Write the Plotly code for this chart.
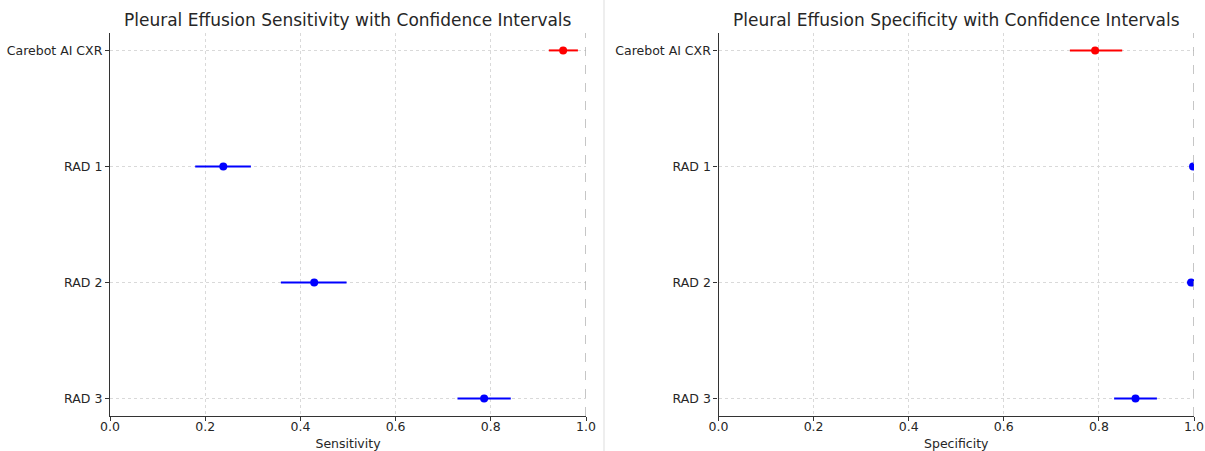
import plotly.graph_objects as go

models = ["Carebot AI CXR", "RAD 1", "RAD 2", "RAD 3"]
colors = ["#ff0000", "#0000ff", "#0000ff", "#0000ff"]

sens = [0.952, 0.238, 0.429, 0.786]
sens_lo = [0.922, 0.179, 0.359, 0.730]
sens_hi = [0.983, 0.296, 0.497, 0.842]

spec = [0.792, 0.998, 0.994, 0.877]
spec_lo = [0.739, 0.995, 0.985, 0.832]
spec_hi = [0.849, 1.000, 1.000, 0.922]

titles = ["Pleural Effusion Sensitivity with Confidence Intervals",
          "Pleural Effusion Specificity with Confidence Intervals"]
xlabels = ["Sensitivity", "Specificity"]
xticks = [0.0, 0.2, 0.4, 0.6, 0.8, 1.0]

FONT = "DejaVu Sans"
TXT = "#262626"

fig = go.Figure()

panels = [(sens, sens_lo, sens_hi), (spec, spec_lo, spec_hi)]
for p, (vals, lo, hi) in enumerate(panels):
    xa = "x" if p == 0 else "x2"
    ya = "y" if p == 0 else "y2"
    for i, m in enumerate(models):
        fig.add_trace(go.Scatter(
            x=[vals[i]], y=[m], xaxis=xa, yaxis=ya,
            mode="markers",
            marker=dict(color=colors[i], size=8),
            error_x=dict(type="data", symmetric=False,
                         array=[hi[i] - vals[i]], arrayminus=[vals[i] - lo[i]],
                         color=colors[i], thickness=2, width=0),
            showlegend=False, cliponaxis=True,
        ))

ydom = [1 - 416 / 451, 1 - 33 / 451]
xdoms = [[110 / 1205, 586 / 1205], [718.5 / 1205, 1194 / 1205]]

axis_common = dict(
    showline=True, linecolor="#333333", linewidth=1.3, mirror=False,
    ticks="outside", ticklen=4, tickcolor="#333333",
    showgrid=True, gridcolor="#d9d9d9", griddash="dot", gridwidth=1,
    zeroline=False, automargin=False,
    tickfont=dict(family=FONT, size=12.5, color=TXT),
)

for p in range(2):
    sx = "" if p == 0 else "2"
    fig.update_layout(**{
        f"xaxis{sx}": dict(
            domain=xdoms[p], anchor=f"y{sx}", range=[0, 1],
            tickvals=xticks, ticktext=[f"{t:.1f}" for t in xticks],
            ticklabelstandoff=-5,
            title=dict(text=xlabels[p], font=dict(family=FONT, size=12.5, color=TXT), standoff=8),
            **axis_common),
        f"yaxis{sx}": dict(
            domain=ydom, anchor=f"x{sx}", type="category",
            categoryorder="array", categoryarray=models,
            range=[3.15, -0.15],
            **axis_common),
    })
    # dashed reference line at 1.0
    fig.add_shape(type="line", xref=f"x{sx}", yref=f"y{sx} domain",
                  x0=1, x1=1, y0=0, y1=1,
                  line=dict(color="#a8a8a8", width=1.3, dash="dash"))
    fig.add_annotation(text=titles[p], xref="paper", yref="paper",
                       x=(xdoms[p][0] + xdoms[p][1]) / 2, y=1 - 20.5 / 451,
                       xanchor="center", yanchor="middle", showarrow=False,
                       font=dict(family=FONT, size=17, color=TXT))

# separator between the panels
fig.add_shape(type="line", xref="paper", yref="paper",
              x0=604 / 1205, x1=604 / 1205, y0=0, y1=1,
              line=dict(color="#dddddd", width=1))

fig.update_layout(
    width=1205, height=451,
    margin=dict(l=0, r=0, t=0, b=0),
    paper_bgcolor="white", plot_bgcolor="white",
    font=dict(family=FONT, color=TXT),
)

fig.write_html("out.html")
